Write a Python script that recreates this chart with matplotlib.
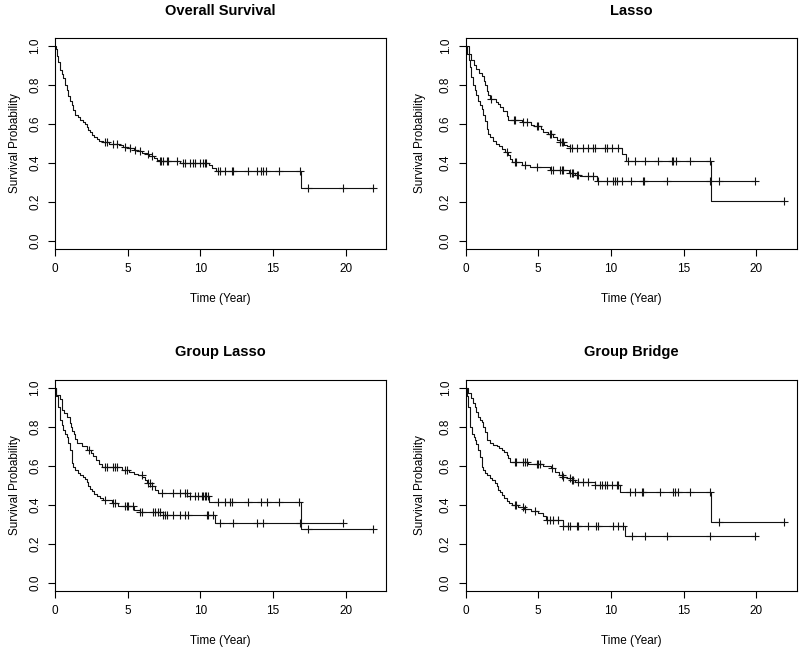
import numpy as np
import matplotlib
matplotlib.use("Agg")
import matplotlib.pyplot as plt

plt.rcParams['font.family'] = ['Liberation Sans', 'DejaVu Sans']

# Overall survival (single curve)
os_t = [0, 0.05, 0.11, 0.2, 0.34, 0.45, 0.57, 0.69, 0.8, 0.92, 1.03, 1.15, 1.27, 1.38, 1.55, 1.72,
        1.9, 2.06, 2.18, 2.3, 2.41, 2.52, 2.7, 2.87, 3.05, 3.3, 3.7, 4.4, 4.7, 5.0, 5.4, 5.7, 6.0,
        6.3, 6.5, 6.8, 7.0, 7.2, 8.6, 10.6, 10.8, 11.1, 16.9]
os_s = [1.0, 0.985, 0.95, 0.92, 0.875, 0.855, 0.835, 0.80, 0.775, 0.745, 0.72, 0.695, 0.67, 0.648,
        0.635, 0.62, 0.61, 0.598, 0.585, 0.57, 0.558, 0.546, 0.535, 0.525, 0.515, 0.51, 0.50, 0.49,
        0.482, 0.476, 0.468, 0.46, 0.452, 0.444, 0.436, 0.428, 0.418, 0.41, 0.40, 0.39, 0.375, 0.36, 0.27]
os_c = [3.44, 3.55, 4.0, 4.24, 4.8, 5.16, 5.5, 5.85, 6.4, 6.65, 7.2, 7.3, 7.45, 7.7, 7.8, 8.4, 8.8,
        8.95, 9.3, 9.5, 9.6, 10.0, 10.2, 10.3, 10.4, 11.2, 11.35, 11.7, 12.15, 12.27, 13.3, 13.9,
        14.2, 14.3, 14.55, 15.4, 16.85, 17.4, 19.8, 21.9]

# Lasso: low-risk and high-risk groups
la1_t = [0, 0.2, 0.4, 0.55, 0.75, 0.9, 1.1, 1.25, 1.35, 1.45, 1.55, 1.68, 2.1, 2.25, 2.4, 2.6, 2.82,
         2.95, 3.9, 4.5, 4.7, 5.2, 5.35, 5.7, 6.0, 6.3, 6.5, 6.8, 6.95, 7.15, 10.75, 11.05, 16.9]
la1_s = [1.0, 0.96, 0.93, 0.90, 0.88, 0.86, 0.845, 0.82, 0.80, 0.77, 0.75, 0.73, 0.715, 0.70, 0.685,
         0.665, 0.64, 0.62, 0.61, 0.597, 0.588, 0.575, 0.56, 0.55, 0.535, 0.52, 0.51, 0.495, 0.485,
         0.475, 0.445, 0.41, 0.205]
la1_c = [1.72, 3.3, 3.4, 3.97, 4.2, 4.9, 5.0, 5.8, 5.9, 6.5, 6.6, 6.7, 7.2, 7.3, 7.65, 8.1, 8.45,
         8.8, 8.9, 9.6, 9.7, 10.05, 10.5, 11.2, 11.66, 12.35, 13.27, 14.2, 14.3, 14.5, 15.45, 16.83, 21.9]
la2_t = [0, 0.1, 0.2, 0.3, 0.4, 0.5, 0.64, 0.75, 0.87, 1.0, 1.1, 1.2, 1.33, 1.45, 1.55, 1.7, 1.9,
         2.1, 2.3, 2.5, 2.7, 2.9, 3.05, 3.2, 3.9, 4.4, 5.8, 7.1, 7.5, 7.9, 9.05]
la2_s = [1.0, 0.96, 0.93, 0.89, 0.84, 0.80, 0.775, 0.75, 0.72, 0.695, 0.675, 0.645, 0.615, 0.575,
         0.55, 0.535, 0.515, 0.50, 0.485, 0.47, 0.455, 0.44, 0.42, 0.405, 0.39, 0.38, 0.365, 0.35,
         0.34, 0.335, 0.31]
la2_c = [2.82, 3.4, 3.5, 4.1, 4.9, 5.9, 6.0, 6.5, 6.6, 6.7, 7.2, 7.3, 7.4, 7.65, 7.75, 8.45, 8.8,
         9.1, 9.7, 10.17, 10.3, 10.4, 10.75, 11.4, 12.2, 12.3, 13.85, 16.83, 17.47, 19.9]

# Group Lasso
gl1_t = [0, 0.1, 0.35, 0.46, 0.6, 0.8, 1.0, 1.1, 1.2, 1.3, 1.4, 1.5, 1.83, 2.18, 2.45, 2.64, 2.8,
         3.0, 3.2, 4.6, 5.1, 5.4, 5.7, 6.0, 6.2, 6.35, 6.65, 6.9, 7.1, 9.1, 10.6, 16.9]
gl1_s = [1.0, 0.96, 0.94, 0.885, 0.87, 0.85, 0.82, 0.80, 0.78, 0.76, 0.735, 0.715, 0.70, 0.68,
         0.665, 0.65, 0.63, 0.61, 0.595, 0.58, 0.57, 0.56, 0.55, 0.54, 0.525, 0.51, 0.495, 0.475,
         0.46, 0.445, 0.415, 0.275]
gl1_c = [2.34, 3.44, 3.55, 4.0, 4.1, 4.25, 4.8, 4.93, 5.96, 6.42, 6.54, 6.65, 7.34, 8.14, 8.6, 8.95,
         9.06, 9.3, 9.63, 9.86, 10.1, 10.2, 10.3, 10.4, 10.55, 11.24, 11.7, 12.04, 12.16, 13.3, 14.2,
         14.56, 15.44, 16.8, 17.43, 21.9]
gl2_t = [0, 0.1, 0.23, 0.34, 0.45, 0.57, 0.7, 0.8, 0.9, 1.03, 1.15, 1.27, 1.38, 1.55, 1.72, 1.9,
         2.06, 2.18, 2.3, 2.4, 2.52, 2.7, 2.87, 3.1, 3.3, 3.9, 4.3, 5.45, 5.85, 7.4, 11.0]
gl2_s = [1.0, 0.955, 0.90, 0.835, 0.81, 0.785, 0.76, 0.745, 0.715, 0.68, 0.615, 0.595, 0.58, 0.565,
         0.555, 0.54, 0.53, 0.515, 0.495, 0.48, 0.47, 0.455, 0.445, 0.435, 0.425, 0.41, 0.395, 0.375,
         0.365, 0.35, 0.305]
gl2_c = [3.44, 4.0, 4.13, 4.82, 4.93, 5.05, 5.39, 5.85, 5.96, 6.77, 6.88, 7.1, 7.22, 7.45, 7.57,
         7.68, 8.14, 8.6, 8.95, 9.17, 10.44, 10.55, 10.9, 11.35, 12.27, 13.88, 14.33, 16.86, 19.84]

# Group Bridge
gb1_t = [0, 0.18, 0.4, 0.52, 0.64, 0.75, 0.87, 1.0, 1.1, 1.2, 1.33, 1.45, 1.68, 1.9, 2.13, 2.3,
         2.48, 2.65, 2.82, 2.95, 3.05, 4.3, 5.3, 5.9, 6.15, 6.4, 6.7, 6.95, 7.2, 7.5, 8.9, 10.6, 16.9]
gb1_s = [1.0, 0.97, 0.945, 0.92, 0.90, 0.875, 0.85, 0.835, 0.826, 0.80, 0.775, 0.73, 0.715, 0.707,
         0.70, 0.69, 0.68, 0.668, 0.655, 0.64, 0.62, 0.61, 0.60, 0.59, 0.57, 0.55, 0.54, 0.535,
         0.525, 0.515, 0.50, 0.465, 0.31]
gb1_c = [3.4, 3.5, 3.97, 4.1, 4.2, 4.9, 5.0, 5.1, 5.92, 6.6, 6.7, 7.19, 7.3, 7.4, 7.76, 8.1, 8.45,
         8.9, 9.25, 9.37, 9.6, 9.7, 10.06, 10.4, 10.5, 11.32, 11.66, 12.12, 12.24, 13.39, 14.3,
         14.4, 14.65, 15.45, 16.83, 17.47, 21.88]
gb2_t = [0, 0.07, 0.18, 0.3, 0.41, 0.55, 0.64, 0.75, 0.87, 0.99, 1.1, 1.2, 1.33, 1.5, 1.68, 1.85,
         2.02, 2.15, 2.25, 2.38, 2.48, 2.65, 2.82, 3.0, 3.17, 3.6, 4.0, 4.5, 5.0, 5.35, 5.55, 6.7, 11.0]
gb2_s = [1.0, 0.955, 0.90, 0.80, 0.76, 0.745, 0.733, 0.71, 0.68, 0.647, 0.596, 0.58, 0.562, 0.55,
         0.537, 0.525, 0.51, 0.495, 0.477, 0.465, 0.451, 0.435, 0.418, 0.41, 0.40, 0.39, 0.38, 0.37,
         0.36, 0.345, 0.32, 0.29, 0.24]
gb2_c = [3.4, 3.5, 3.97, 4.1, 4.78, 5.58, 5.8, 6.04, 6.38, 6.73, 7.07, 7.19, 7.65, 7.76, 8.45, 9.0,
         9.14, 10.17, 10.5, 10.86, 11.43, 12.35, 13.85, 16.83, 19.93]

panels = [
    ("Overall Survival", [(os_t, os_s, os_c)]),
    ("Lasso", [(la1_t, la1_s, la1_c), (la2_t, la2_s, la2_c)]),
    ("Group Lasso", [(gl1_t, gl1_s, gl1_c), (gl2_t, gl2_s, gl2_c)]),
    ("Group Bridge", [(gb1_t, gb1_s, gb1_c), (gb2_t, gb2_s, gb2_c)]),
]


def km_line(ax, t, s, cens):
    t = np.asarray(t)
    s = np.asarray(s)
    cens = np.asarray(cens)
    end = max(t.max(), cens.max())
    ax.step(np.append(t, end), np.append(s, s[-1]), where='post', color='#111111', lw=0.8)
    idx = np.searchsorted(t, cens, side='right') - 1
    ax.plot(cens, s[idx], ls='none', marker='+', ms=6, mew=0.8, color='#111111')


fig = plt.figure(figsize=(8, 6.51), dpi=100)
lefts = [0.0688, 0.582]
bottoms = [0.6175, 0.0926]
ylab_x = [-0.121, -0.138]

for i, (title, curves) in enumerate(panels):
    r, c = divmod(i, 2)
    ax = fig.add_axes([lefts[c], bottoms[r], 0.4138, 0.324])
    for t, s, cens in curves:
        km_line(ax, t, s, cens)
    ax.set_xlim(0, 22.78)
    ax.set_ylim(-0.04, 1.04)
    ax.set_xticks([0, 5, 10, 15, 20])
    ax.set_yticks([0, 0.2, 0.4, 0.6, 0.8, 1.0])
    ax.set_yticklabels(["0.0", "0.2", "0.4", "0.6", "0.8", "1.0"], rotation=90, va='center')
    ax.tick_params(direction='out', length=5, width=0.8, labelsize=8.5, pad=5)
    for sp in ax.spines.values():
        sp.set_linewidth(0.8)
    ax.set_xlabel("Time (Year)", fontsize=8.5, va='center')
    ax.xaxis.set_label_coords(0.5, -0.237)
    ax.set_ylabel("Survival Probability", fontsize=8.5, va='center')
    ax.yaxis.set_label_coords(ylab_x[c], 0.5)
    ax.text(0.5, 1.13, title, transform=ax.transAxes, ha='center', va='center',
            fontsize=10.5, fontweight='bold')

fig.savefig("out.png", dpi=100)
